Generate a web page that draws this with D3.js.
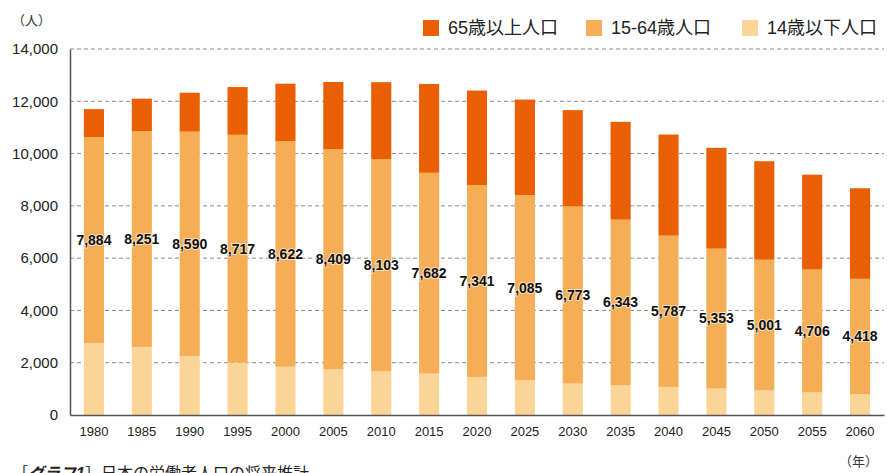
<!DOCTYPE html>
<html>
<head>
<meta charset="utf-8">
<script src="https://cdn.jsdelivr.net/npm/d3@7"></script>
<style>
  body { margin: 0; background: #fff; }
  svg { display: block; font-family: "Liberation Sans", Arial, "Noto Sans CJK JP", sans-serif; }
</style>
</head>
<body>
<script>
// years and population (unit: 10,000 people)
const years = ["1980","1985","1990","1995","2000","2005","2010","2015","2020","2025","2030","2035","2040","2045","2050","2055","2060"];
const under14 = [2751,2603,2249,2001,1847,1752,1680,1583,1457,1324,1204,1129,1073,1012,939,861,791];
const age15to64 = [7884,8251,8590,8717,8622,8409,8103,7682,7341,7085,6773,6343,5787,5353,5001,4706,4418];
const over65 = [1065,1247,1489,1826,2204,2576,2948,3395,3612,3657,3685,3741,3868,3856,3768,3626,3464];
const yTicks = [0,2000,4000,6000,8000,10000,12000,14000];
const seriesNames = ["14歳以下人口","15-64歳人口","65歳以上人口"];
const colors = ["#fbd597","#f5ae56","#ea5f02"];

const W = 887, H = 473;
const margin = {top: 49, right: 3, bottom: 58, left: 70};
const width = W - margin.left - margin.right;
const height = H - margin.top - margin.bottom;

const svg = d3.select("body").append("svg")
  .attr("width", W)
  .attr("height", H);

const g = svg.append("g").attr("transform", `translate(${margin.left},${margin.top})`);

const rows = years.map((y, i) => ({year: y, a: under14[i], b: age15to64[i], c: over65[i]}));
const stack = d3.stack().keys(["a","b","c"])(rows);

const x = d3.scaleBand().domain(years).range([0, width]).paddingInner(0.58).paddingOuter(0.29);
const y = d3.scaleLinear().domain([0, 14000]).range([height, 0]);

// grid
g.append("g").selectAll("line")
  .data(yTicks.filter(d => d > 0))
  .join("line")
  .attr("x1", 0).attr("x2", width)
  .attr("y1", d => y(d)).attr("y2", d => y(d))
  .attr("stroke", "#8a8a8a")
  .attr("stroke-width", 1)
  .attr("stroke-dasharray", "4,3");

// bars
g.append("g").selectAll("g")
  .data(stack)
  .join("g")
  .attr("fill", (d, i) => colors[i])
  .selectAll("rect")
  .data(d => d)
  .join("rect")
  .attr("x", d => x(d.data.year))
  .attr("width", x.bandwidth())
  .attr("y", d => y(d[1]))
  .attr("height", d => y(d[0]) - y(d[1]));

// labels for 15-64
g.append("g").selectAll("text")
  .data(stack[1])
  .join("text")
  .attr("x", d => x(d.data.year) + x.bandwidth() / 2)
  .attr("y", d => y((d[0] + d[1]) / 2))
  .attr("dy", "0.35em")
  .attr("text-anchor", "middle")
  .attr("font-size", 14)
  .attr("font-weight", "bold")
  .attr("fill", "#111")
  .attr("stroke", "#fff")
  .attr("stroke-width", 2)
  .attr("stroke-opacity", 0.6)
  .attr("paint-order", "stroke")
  .text(d => d3.format(",")(d.data.b));

// axes
const yAxis = g.append("g")
  .call(d3.axisLeft(y).tickValues(yTicks).tickSize(0).tickPadding(12).tickFormat(d3.format(",")));
yAxis.select(".domain").attr("stroke", "#555").attr("stroke-width", 1.5);
yAxis.selectAll("text").attr("font-size", 15).attr("fill", "#222");

const xAxis = g.append("g").attr("transform", `translate(0,${height})`)
  .call(d3.axisBottom(x).tickSize(0).tickPadding(12));
xAxis.select(".domain").attr("stroke", "#555").attr("stroke-width", 1.5);
xAxis.selectAll("text").attr("font-size", 13).attr("fill", "#222");

// unit labels
svg.append("text").attr("x", 12).attr("y", 25)
  .attr("font-size", 13).attr("fill", "#333").text("（人）");
svg.append("text").attr("x", 878).attr("y", 466).attr("text-anchor", "end")
  .attr("font-size", 13).attr("fill", "#333").text("（年）");

// legend
const legendX = [423, 586, 742];
const legendOrder = [2, 1, 0];
const legend = svg.append("g").selectAll("g")
  .data(legendOrder)
  .join("g")
  .attr("transform", (d, i) => `translate(${legendX[i]},20)`);
legend.append("rect").attr("width", 16).attr("height", 16).attr("fill", d => colors[d]);
legend.append("text").attr("x", 25).attr("y", 8).attr("dy", "0.35em")
  .attr("font-size", 18).attr("fill", "#222")
  .text(d => seriesNames[d]);

// caption (cut off at bottom)
const cap = svg.append("text").attr("x", 12).attr("y", 479).attr("font-size", 16).attr("fill", "#222");
cap.append("tspan").text("［");
cap.append("tspan").attr("font-weight", "bold").attr("font-style", "italic").text("グラフ1");
cap.append("tspan").text("］日本の労働者人口の将来推計");
</script>
</body>
</html>
